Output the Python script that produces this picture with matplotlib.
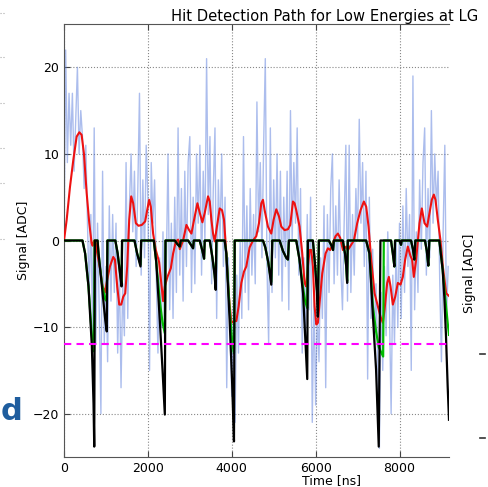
import numpy as np
import matplotlib
matplotlib.use('Agg')
import matplotlib.pyplot as plt
from matplotlib.lines import Line2D

# raw ADC samples, one every 40 ns
SAMPLE_NS = 40
raw_adc = [
    -1, 22, 9, 17, 11, 17, 8, 14, 20, 10,
    15, 12, 6, 11, 2, -6, 3, -11, 13, -12,
    2, -8, -20, 8, -12, -3, -14, 4, -7, 3,
    -6, 2, -13, -3, -17, -5, -11, 9, -9, 4,
    10, 1, 8, -3, 6, 17, -4, 7, -2, 11,
    5, -15, 9, 2, 7, -4, -13, -2, -10, 1,
    -12, -3, 10, -8, 2, -9, 5, -6, 13, -4,
    6, -7, 8, -3, 9, 12, -6, 5, -5, 10,
    2, 11, -4, 8, 0, 21, 3, 12, -5, 6,
    13, -9, 7, 0, 10, -3, 5, -17, -2, -11,
    -18, -7, -21, -4, -13, 0, -9, 12, -6, 4,
    -8, 6, -4, 3, -5, 16, 1, 9, -2, 11,
    21, -3, -12, 13, -6, 7, -2, 10, -4, 8,
    -7, 5, -3, 8, -8, 15, 0, 9, 2, 13,
    -4, 6, -13, -2, -11, 3, -8, 5, -21, -6,
    -19, -8, -14, -2, -9, 4, -17, 3, -6, 6,
    10, -5, 4, -4, 7, -3, -8, 2, 11, -7,
    11, -6, 3, -4, 6, 0, 14, 2, 9, -3,
    8, -16, 5, -9, -1, -12, -5, -14, -24, -6,
    -15, -3, -11, 1, -8, -20, -4, -12, 0, -10,
    2, -9, 4, -6, 6, -3, 3, -15, 19, -8,
    1, -6, 7, -1, 9, 13, -4, 6, -2, 15,
    2, 10, 4, 8, -5, -14, 1, 11, -9, -3,
]

# smoothed signal (time ns, ADC)
smoothed = [
    (0, 0), (64, 2.4), (143, 6.2), (222, 9.3), (302, 12), (365, 12.5), (420, 12.2),
    (476, 10), (540, 5.5), (603, 2), (658, -0.3), (682, -0.6), (722, 0), (754, -0.1),
    (793, -1.5), (857, -3.2), (920, -5.3), (976, -6), (1015, -4.9), (1095, -3),
    (1174, -1.9), (1214, -2.2), (1269, -5.3), (1317, -7.4), (1364, -7.4), (1412, -6.5),
    (1460, -6.1), (1507, -3), (1555, 2.4), (1602, 5.1), (1650, 4.3), (1713, 2),
    (1777, 1.7), (1856, 1.8), (1935, 2.2), (1983, 3.5), (2030, 4.7), (2070, 3.9),
    (2125, 0.8), (2189, -1.1), (2268, -2.5), (2320, -5), (2364, -7), (2404, -5.3),
    (2467, -4.2), (2547, -3.2), (2602, -1.5), (2666, -0.1), (2721, 0.1), (2761, -1),
    (2840, 0), (2919, 1.8), (2983, 1.2), (3038, 0.8), (3102, 2.4), (3181, 4.3),
    (3237, 3.2), (3300, 2.1), (3356, 3.2), (3435, 5.1), (3475, 4.5), (3514, 2.4),
    (3554, 0.8), (3593, -0.1), (3633, 1.2), (3712, 3.7), (3768, 3.5), (3815, 2.4),
    (3871, -1.5), (3926, -6.1), (3990, -9.5), (4053, -9.3), (4109, -9.3), (4164, -7.6),
    (4228, -4.9), (4291, -3.6), (4347, -3), (4426, -0.8), (4506, 0), (4585, 0.5),
    (4649, 2), (4704, 4.3), (4744, 4.7), (4784, 3.5), (4863, 1.6), (4942, 0.8),
    (4998, 2.4), (5062, 3.6), (5125, 2.8), (5181, 1.6), (5260, 1.2), (5339, 1.3),
    (5395, 1.8), (5459, 4.5), (5498, 4.3), (5538, 3.5), (5617, 1.6), (5681, -1.5),
    (5737, -4.9), (5776, -5.3), (5816, -3), (5856, -1.1), (5896, -1.1), (5935, -3),
    (5975, -7.6), (6015, -9.7), (6054, -9.5), (6094, -7.2), (6158, -3.8), (6237, -1.5),
    (6293, -0.9), (6348, -1.1), (6412, -0.3), (6475, 0.5), (6531, 0.8), (6586, 0.3),
    (6650, -1.1), (6729, -0.7), (6769, -1.1), (6848, -0.5), (6912, 0), (6991, 2),
    (7071, 3.5), (7150, 4.5), (7206, 3.9), (7262, 1.6), (7325, -2.2), (7405, -6.1),
    (7484, -7.6), (7547, -8.8), (7603, -9.5), (7643, -8), (7706, -4.9), (7746, -4.2),
    (7786, -5.3), (7841, -7.4), (7897, -6.5), (7960, -4.9), (8024, -5.1), (8079, -4.2),
    (8135, -2.2), (8198, -0.7), (8262, -1.8), (8301, -2.2), (8341, -4.2), (8397, -2.2),
    (8476, 2), (8532, 3.7), (8596, 2), (8659, 1.6), (8715, 3.2), (8770, 4.7),
    (8818, 5.3), (8858, 4.7), (8913, 2.4), (8977, 0), (9033, -3), (9112, -6.1),
    (9180, -6.4),
]

# hit finder output, shaped (green) and fast (black) paths
shaped_hits = [
    (0, 0), (440, 0), (504, -1.5), (584, -5.3), (664, -11), (715, -12.8), (730, 0),
    (800, 0), (824, -1.5), (904, -5), (984, -6.8), (1020, -7), (1035, 0),
    (1224, 0), (1280, -1.5), (1344, -4), (1372, -5), (1385, 0),
    (1680, 0), (1744, -1.5), (1824, -2.8), (1840, 0),
    (2141, 0), (2200, -2.5), (2284, -7), (2350, -9.5), (2404, -10.7), (2420, 0),
    (2642, 0), (2700, -0.4), (2760, -0.7), (2785, 0),
    (2960, 0), (3040, -0.6), (3078, -0.9), (3095, 0),
    (3236, 0), (3300, -1.2), (3340, -2.1), (3356, 0),
    (3475, 0), (3540, -2), (3590, -3.8), (3617, -5.3), (3633, 0),
    (3831, 0), (3871, -1.5), (3950, -8), (4006, -11.5), (4053, -13), (4070, 0),
    (4745, 0), (4800, -0.8), (4870, -2.5), (4942, -4.8), (4966, 0),
    (5141, 0), (5220, -1.2), (5300, -2), (5340, -2.2), (5363, 0),
    (5537, 0), (5615, -2.2), (5700, -5.5), (5750, -7), (5800, -7.8), (5815, 0),
    (5934, 0), (5990, -3), (6030, -5.5), (6053, -7), (6077, 0),
    (6315, 0), (6380, -0.6), (6415, -1.1), (6435, 0),
    (6648, 0), (6700, -1.5), (6730, -3), (6751, -4.7), (6767, 0),
    (7204, 0), (7283, -1.5), (7362, -7.5), (7441, -10.5), (7505, -12.3), (7610, -13.4), (7625, 0),
    (7798, 0), (7840, -1.5), (7878, -3), (7894, 0),
    (7997, 0), (8036, -0.5), (8052, 0),
    (8274, 0), (8320, -1), (8353, -2.2), (8377, 0),
    (8607, 0), (8650, -1.2), (8687, -2.9), (8711, 0),
    (8949, 0), (9029, -3.4), (9068, -5.5), (9108, -7.5), (9148, -9.5), (9180, -10.9),
]

fast_hits = [
    (0, 0), (440, 0), (504, -1.5), (584, -5.3), (664, -12.2), (704, -18.8), (721, -23.8), (736, 0),
    (800, 0), (824, -1.5), (904, -5.3), (984, -9.2), (1020, -10.5), (1035, 0),
    (1224, 0), (1280, -1.5), (1344, -4.2), (1372, -5.3), (1385, 0),
    (1680, 0), (1744, -1.5), (1824, -3), (1840, 0),
    (2141, 0), (2200, -2.5), (2284, -9.2), (2350, -15), (2404, -20.1), (2420, 0),
    (2642, 0), (2700, -0.4), (2760, -0.7), (2785, 0),
    (2960, 0), (3040, -0.6), (3078, -0.9), (3095, 0),
    (3236, 0), (3300, -1.2), (3340, -2.1), (3356, 0),
    (3475, 0), (3540, -2), (3590, -4), (3617, -5.7), (3633, 0),
    (3831, 0), (3871, -1.5), (3950, -9.2), (4006, -16), (4053, -23.2), (4070, 0),
    (4745, 0), (4800, -0.8), (4870, -2.5), (4942, -5.1), (4966, 0),
    (5141, 0), (5220, -1.2), (5300, -2), (5340, -2.2), (5363, 0),
    (5537, 0), (5615, -2.2), (5700, -6.1), (5750, -11), (5800, -16), (5815, 0),
    (5934, 0), (5990, -3), (6030, -6), (6053, -8.8), (6077, 0),
    (6315, 0), (6380, -0.6), (6415, -1.1), (6435, 0),
    (6648, 0), (6700, -1.5), (6730, -3), (6751, -4.9), (6767, 0),
    (7204, 0), (7283, -1.5), (7362, -8.4), (7441, -14.9), (7505, -23.8), (7545, 0),
    (7798, 0), (7840, -1.5), (7878, -3), (7894, 0),
    (7997, 0), (8036, -0.5), (8052, 0),
    (8274, 0), (8320, -1), (8353, -2.2), (8377, 0),
    (8607, 0), (8650, -1.2), (8687, -2.9), (8711, 0),
    (8949, 0), (9029, -3.4), (9068, -6.5), (9108, -11), (9148, -16.8), (9180, -20.7),
]

threshold_adc = -12
x_ticks = [0, 2000, 4000, 6000, 8000]
y_ticks = [-20, -10, 0, 10, 20]

time_ns = np.arange(len(raw_adc)) * SAMPLE_NS
sm_t, sm_v = zip(*smoothed)
sh_t, sh_v = zip(*shaped_hits)
fh_t, fh_v = zip(*fast_hits)

plt.rcParams['font.family'] = 'DejaVu Sans'
fig = plt.figure(figsize=(4.88, 4.87), dpi=100)
W, H = 488.0, 487.0
ax = fig.add_axes([64 / W, 30 / H, 385 / W, 433 / H])

ax.plot(time_ns, raw_adc, color='#5a7ddc', alpha=0.5, lw=1.0, zorder=2)
ax.plot(sm_t, sm_v, color='#ee1111', lw=1.5, zorder=3)
ax.plot(sh_t, sh_v, color='#00bb00', lw=1.6, zorder=4)
ax.plot(fh_t, fh_v, color='black', lw=1.6, zorder=5)
ax.axhline(threshold_adc, color='#ff00ff', lw=1.5, ls=(0, (3.5, 2.5)), zorder=6)

ax.set_xlim(0, 9180)
ax.set_ylim(-25, 25)
ax.set_xticks(x_ticks)
ax.set_yticks(y_ticks)
ax.grid(True, color='#888888', ls=':', lw=0.8, zorder=1)
ax.tick_params(direction='in', labelsize=9, length=4, top=True, color='#444444')
for side in ('left', 'bottom', 'top'):
    ax.spines[side].set_color('#555555')
ax.spines['right'].set_visible(False)

ax.set_ylabel('Signal [ADC]', fontsize=9)
ax.yaxis.set_label_coords(-0.088, 0.5)
ax.set_xlabel('Time [ns]', fontsize=9)
ax.xaxis.set_label_coords((332 - 64) / 385, -0.04)
fig.text(171 / W, 1 - 16 / H, 'Hit Detection Path for Low Energies at LG',
         fontsize=10.6, ha='left', va='center')

# bits of the neighbouring panels
fig.text(469 / W, 1 - 273 / H, 'Signal [ADC]', fontsize=9, rotation=90,
         ha='center', va='center')
for yy in (354, 438):
    fig.add_artist(Line2D([480 / W, 485 / W], [1 - yy / H, 1 - yy / H],
                          color='#333333', lw=1.2))
for yy in (13, 57, 103, 148, 183, 239):
    fig.add_artist(Line2D([0, 5 / W], [1 - yy / H, 1 - yy / H],
                          color='#aaaaaa', lw=0.8, ls=':'))
fig.text(1 / W, 1 - 411 / H, 'd', fontsize=22, fontweight='bold',
         color='#1f5d9e', ha='left', va='center')

fig.savefig('out.png', dpi=100)
